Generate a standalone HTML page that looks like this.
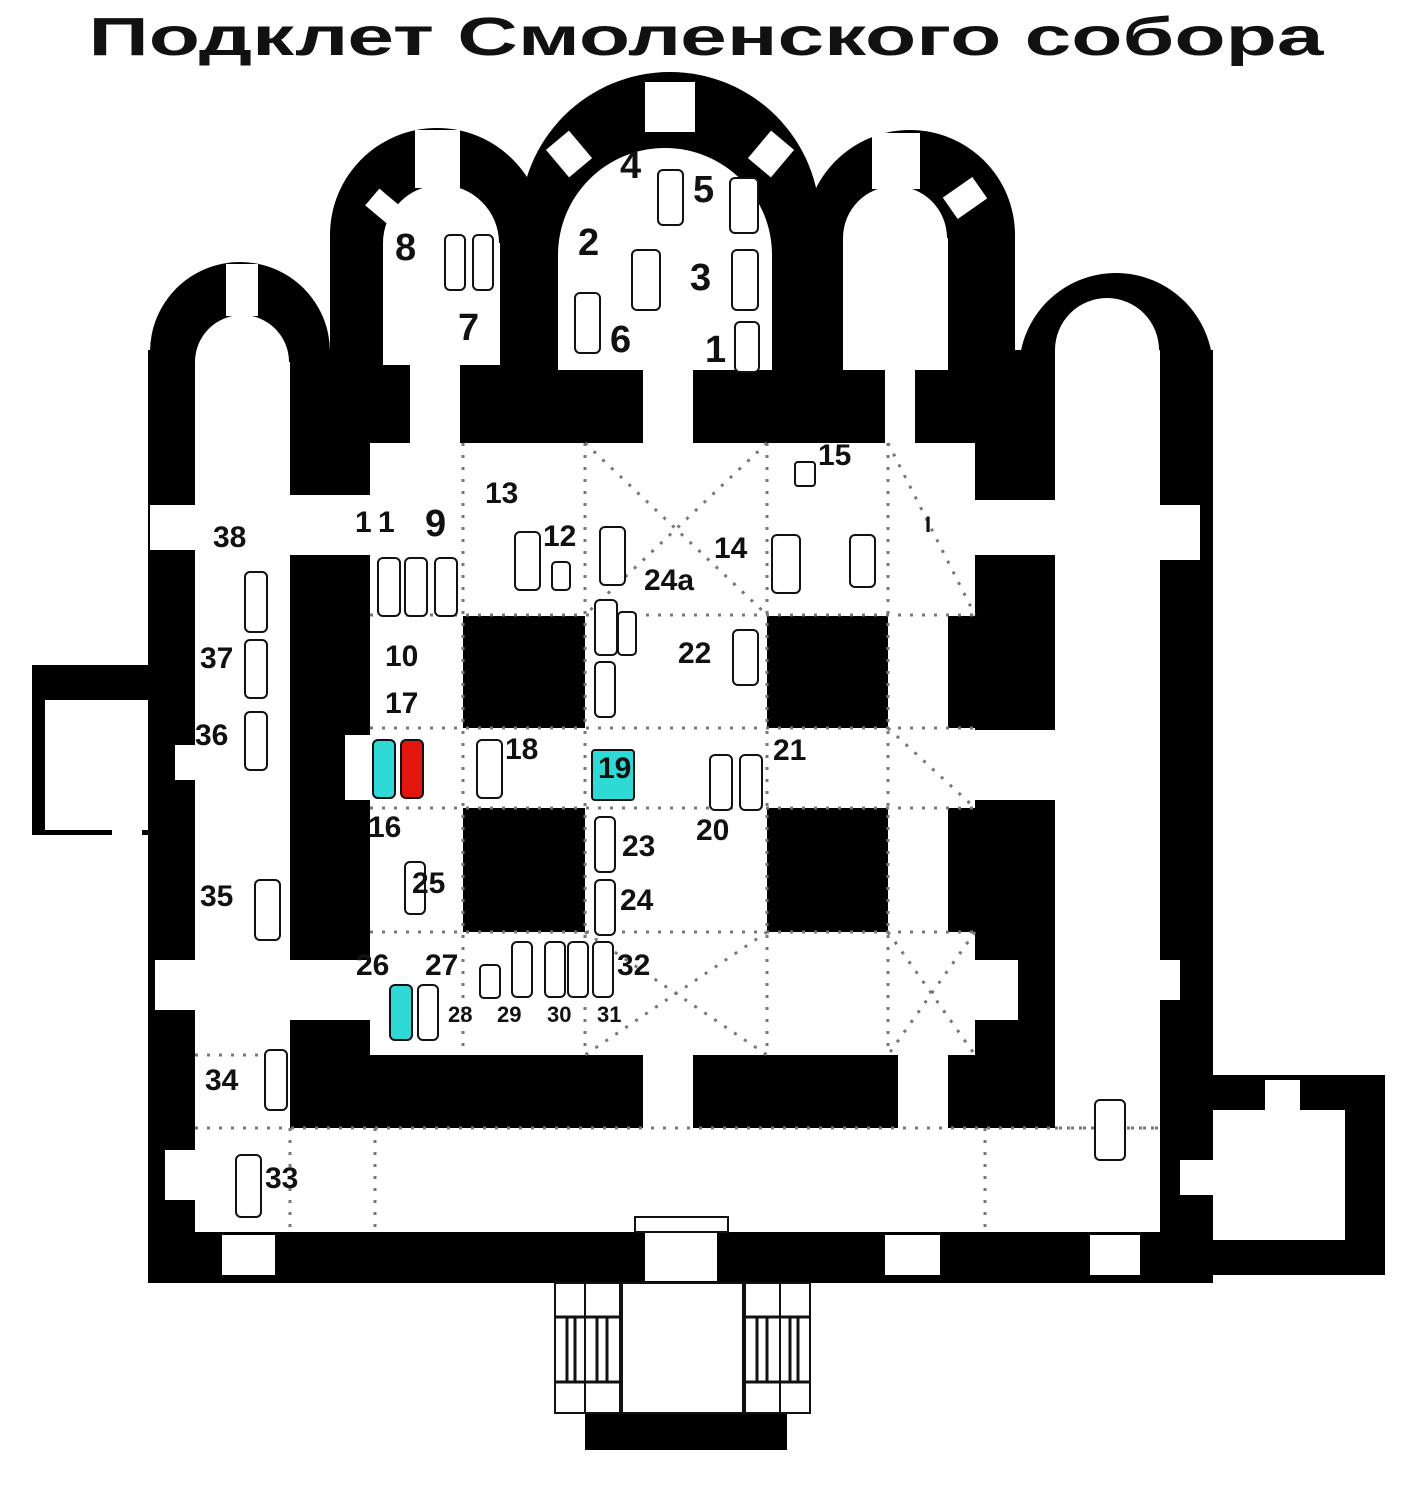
<!DOCTYPE html>
<html><head><meta charset="utf-8"><style>
html,body{margin:0;padding:0;background:#fff;}
svg{display:block}
text{font-family:"Liberation Sans",sans-serif;font-weight:bold;fill:#111}
</style></head><body>
<svg width="1403" height="1499" viewBox="0 0 1403 1499" xmlns="http://www.w3.org/2000/svg">
<rect width="1403" height="1499" fill="#fff"/>
<text x="706" y="55" font-size="54" text-anchor="middle" textLength="1235" lengthAdjust="spacingAndGlyphs">Подклет Смоленского собора</text>
<g fill="#000">
<rect x="148" y="350" width="1065" height="933"/>
<rect x="150" y="352" width="180" height="100"/><circle cx="240" cy="352" r="90"/>
<rect x="330" y="235" width="215" height="200"/><circle cx="437" cy="235" r="107"/>
<circle cx="670" cy="222" r="150"/><rect x="520" y="222" width="300" height="200"/>
<circle cx="910" cy="235" r="105"/><rect x="805" y="235" width="210" height="200"/>
<circle cx="1116" cy="370" r="97"/><rect x="1019" y="370" width="194" height="100"/>
<rect x="32" y="665" width="130" height="170"/>
<rect x="1200" y="1075" width="185" height="200"/>
<rect x="585" y="1405" width="202" height="45"/>
</g>
<g fill="#fff">
<rect x="195" y="362" width="95" height="868"/><circle cx="242" cy="362" r="47"/>
<rect x="383" y="243" width="117" height="122"/><circle cx="441" cy="243" r="58"/>
<rect x="558" y="255" width="214" height="115"/><circle cx="665" cy="255" r="107"/>
<rect x="843" y="238" width="105" height="132"/><circle cx="895" cy="238" r="52"/>
<rect x="1055" y="350" width="105" height="882"/><circle cx="1107" cy="350" r="52"/>
<rect x="195" y="1128" width="965" height="104"/>
<rect x="370" y="443" width="605" height="612"/>
<rect x="410" y="365" width="50" height="80"/>
<rect x="643" y="370" width="50" height="75"/>
<rect x="885" y="370" width="30" height="75"/>
<rect x="290" y="495" width="80" height="60"/>
<rect x="290" y="960" width="80" height="60"/>
<rect x="975" y="500" width="80" height="55"/>
<rect x="975" y="960" width="43" height="60"/>
<rect x="975" y="730" width="80" height="70"/>
<rect x="345" y="735" width="25" height="65"/>
<rect x="643" y="1055" width="50" height="73"/>
<rect x="898" y="1055" width="50" height="73"/>
<rect x="45" y="700" width="103" height="130"/>
<rect x="1213" y="1110" width="132" height="130"/>
<rect x="150" y="505" width="45" height="45"/><rect x="155" y="960" width="40" height="50"/>
<rect x="165" y="1150" width="35" height="50"/><rect x="175" y="745" width="20" height="35"/>
<rect x="112" y="830" width="30" height="30"/>
<rect x="222" y="1235" width="53" height="40"/><rect x="885" y="1235" width="55" height="40"/>
<rect x="1090" y="1235" width="50" height="40"/>
<rect x="645" y="1230" width="72" height="51"/>
<rect x="1160" y="505" width="40" height="55"/><rect x="1160" y="960" width="20" height="40"/>
<rect x="1180" y="1160" width="33" height="35"/><rect x="1265" y="1080" width="35" height="30"/>
<rect x="645" y="82" width="50" height="50"/><rect x="415" y="130" width="45" height="58"/>
<rect x="872" y="133" width="48" height="56"/><rect x="226" y="264" width="32" height="52"/>
<rect x="554" y="136" width="30" height="36" transform="rotate(-40 569 154)"/>
<rect x="756" y="136" width="30" height="36" transform="rotate(40 771 154)"/>
<rect x="952" y="180" width="26" height="36" transform="rotate(55 965 198)"/>
<rect x="372" y="192" width="22" height="28" transform="rotate(-50 383 206)"/>
</g>
<g fill="#000">
<rect x="463" y="616" width="122" height="112"/>
<rect x="767" y="616" width="121" height="112"/>
<rect x="463" y="808" width="122" height="124"/>
<rect x="767" y="808" width="121" height="124"/>
<rect x="948" y="616" width="27" height="112"/>
<rect x="948" y="808" width="27" height="124"/>
</g>
<g fill="#fff" stroke="#111" stroke-width="2">
<rect x="635" y="1217" width="93" height="15"/>
<rect x="622" y="1283" width="121" height="130"/>
<rect x="555" y="1283" width="30" height="130"/><rect x="585" y="1283" width="35" height="130"/>
<rect x="745" y="1283" width="35" height="130"/><rect x="780" y="1283" width="30" height="130"/>
<path d="M555 1317h65M555 1382h65M745 1317h65M745 1382h65" fill="none" stroke-width="3"/>
<path d="M567 1317v65M575 1317v65M597 1317v65M607 1317v65M757 1317v65M767 1317v65M790 1317v65M798 1317v65" fill="none" stroke-width="3"/>
</g>
<g fill="none" stroke="#777" stroke-width="3" stroke-dasharray="3 9">
<path d="M370 615H975M370 728H975M370 808H975M370 932H975M463 443V1055M585 443V1055M767 443V1055M888 443V1055"/>
<path d="M585 443L767 615M767 443L585 615M888 443L975 615M585 932L767 1055M767 932L585 1055M888 932L975 1055M975 932L888 1055M888 728L975 808M195 1055H290M195 1128H1160M290 1128V1232M375 1128V1232M985 1128V1232M1055 1128H1160"/>
</g>
<g fill="#fff" stroke="#111" stroke-width="2">
<rect x="658" y="170" width="25" height="55" rx="5"/><rect x="730" y="178" width="28" height="55" rx="5"/>
<rect x="632" y="250" width="28" height="60" rx="5"/><rect x="732" y="250" width="26" height="60" rx="5"/>
<rect x="575" y="293" width="25" height="60" rx="5"/><rect x="735" y="322" width="24" height="50" rx="5"/>
<rect x="445" y="235" width="20" height="55" rx="5"/><rect x="473" y="235" width="20" height="55" rx="5"/>
<rect x="378" y="558" width="22" height="58" rx="5"/><rect x="405" y="558" width="22" height="58" rx="5"/><rect x="435" y="558" width="22" height="58" rx="5"/>
<rect x="515" y="532" width="25" height="58" rx="5"/><rect x="552" y="562" width="18" height="28" rx="4"/>
<rect x="600" y="527" width="25" height="58" rx="5"/><rect x="772" y="535" width="28" height="58" rx="5"/>
<rect x="850" y="535" width="25" height="52" rx="5"/><rect x="795" y="462" width="20" height="24" rx="3"/>
<rect x="595" y="600" width="22" height="55" rx="5"/><rect x="618" y="612" width="18" height="43" rx="4"/>
<rect x="595" y="662" width="20" height="55" rx="5"/><rect x="733" y="630" width="25" height="55" rx="5"/>
<rect x="245" y="572" width="22" height="60" rx="5"/><rect x="245" y="640" width="22" height="58" rx="5"/>
<rect x="245" y="712" width="22" height="58" rx="5"/><rect x="255" y="880" width="25" height="60" rx="5"/>
<rect x="265" y="1050" width="22" height="60" rx="5"/><rect x="236" y="1155" width="25" height="62" rx="5"/>
<rect x="1095" y="1100" width="30" height="60" rx="5"/>
<rect x="477" y="740" width="25" height="58" rx="5"/>
<rect x="710" y="755" width="22" height="55" rx="5"/><rect x="740" y="755" width="22" height="55" rx="5"/>
<rect x="595" y="817" width="20" height="55" rx="5"/><rect x="595" y="880" width="20" height="55" rx="5"/>
<rect x="405" y="862" width="20" height="52" rx="5"/>
<rect x="480" y="965" width="20" height="33" rx="4"/><rect x="512" y="942" width="20" height="55" rx="5"/>
<rect x="545" y="942" width="20" height="55" rx="5"/><rect x="568" y="942" width="20" height="55" rx="5"/>
<rect x="593" y="942" width="20" height="55" rx="5"/>
<rect x="418" y="985" width="20" height="55" rx="5"/>
</g>
<g stroke="#111" stroke-width="2">
<rect x="373" y="740" width="22" height="58" rx="5" fill="#2fd9d6"/>
<rect x="401" y="740" width="22" height="58" rx="5" fill="#e3160f"/>
<rect x="592" y="750" width="42" height="50" rx="3" fill="#2fd9d6"/>
<rect x="390" y="985" width="22" height="55" rx="5" fill="#2fd9d6"/>
</g>
<g font-size="38">
<text x="620" y="178">4</text><text x="693" y="202">5</text><text x="578" y="255">2</text>
<text x="690" y="290">3</text><text x="395" y="260">8</text><text x="458" y="340">7</text>
<text x="610" y="352">6</text><text x="705" y="362">1</text>
</g>
<g font-size="30">
<text x="485" y="503">13</text><text x="355" y="532">1</text><text x="378" y="532">1</text><text x="425" y="536" font-size="38">9</text>
<text x="543" y="546">12</text><text x="714" y="558">14</text><text x="818" y="465">15</text>
<text x="644" y="590">24a</text><text x="678" y="663">22</text><text x="385" y="666">10</text>
<text x="385" y="713">17</text><text x="505" y="759">18</text><text x="598" y="778">19</text>
<text x="773" y="760">21</text><text x="696" y="840">20</text><text x="368" y="837">16</text>
<text x="622" y="856">23</text><text x="412" y="893">25</text><text x="620" y="910">24</text>
<text x="356" y="975">26</text><text x="425" y="975">27</text><text x="617" y="975">32</text>
<text x="213" y="547">38</text><text x="200" y="668">37</text><text x="195" y="745">36</text>
<text x="200" y="906">35</text><text x="205" y="1090">34</text><text x="265" y="1188">33</text>
</g>
<g font-size="22"><text x="448" y="1022">28</text><text x="497" y="1022">29</text><text x="547" y="1022">30</text><text x="597" y="1022">31</text><text x="925" y="532">I</text></g>
</svg>
</body></html>
